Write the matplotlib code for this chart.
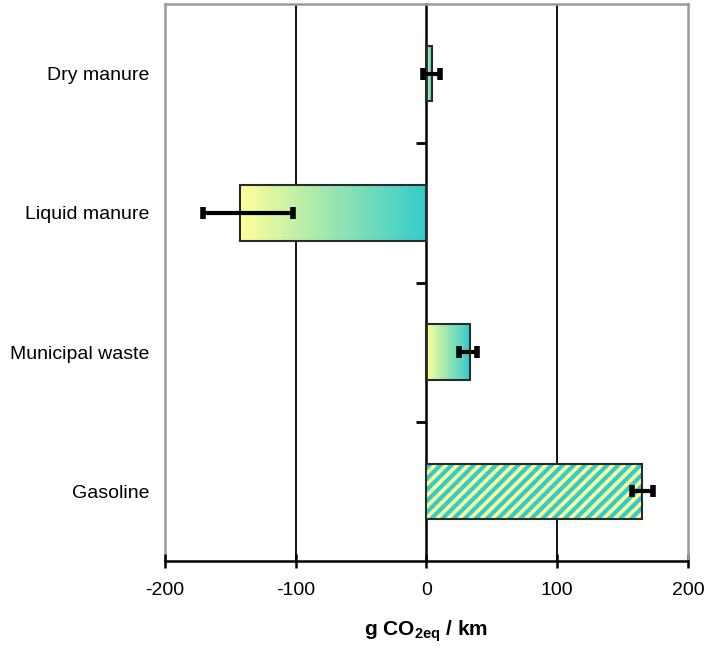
import matplotlib
matplotlib.use("Agg")
import matplotlib.pyplot as plt
import numpy as np
from matplotlib.colors import LinearSegmentedColormap

plt.rcParams.update({"font.family": ["Liberation Sans", "DejaVu Sans"],
                     "font.size": 14,
                     "axes.unicode_minus": False,
                     "mathtext.fontset": "custom",
                     "mathtext.rm": "Liberation Sans",
                     "mathtext.bf": "Liberation Sans:bold",
                     "hatch.linewidth": 2.6})

# data (top to bottom)
categories = ["Dry manure", "Liquid manure", "Municipal waste", "Gasoline"]
values = [4, -143, 33, 165]
err_low = [7, 28, 8, 8]
err_high = [6, 41, 6, 8]
xticks = [-200, -100, 0, 100, 200]

C_YELLOW = "#ffff99"
C_TEAL = "#33cccc"
C_FRAME = "#9a9a9a"
cmap = LinearSegmentedColormap.from_list("yt", [C_YELLOW, C_TEAL])

fig = plt.figure(figsize=(7.07, 6.51), dpi=100)
ax = fig.add_axes([0.2334, 0.1382, 0.7397, 0.8557])

ypos = np.arange(len(categories))
h = 0.4
grad = np.linspace(0, 1, 256).reshape(1, -1)

for i, (y, v) in enumerate(zip(ypos, values)):
    if categories[i] == "Gasoline":
        # teal fill with yellow diagonal stripes
        ax.barh(y, v, height=h, facecolor=C_TEAL, edgecolor=C_YELLOW, lw=0,
                hatch="///", zorder=2.8)
        ax.barh(y, v, height=h, facecolor="none", edgecolor="#2a2a2a", lw=1.5, zorder=3)
    else:
        bar = ax.barh(y, v, height=h, facecolor="none", edgecolor="#2a2a2a",
                      lw=1.5, zorder=3)[0]
        img = ax.imshow(grad, cmap=cmap, aspect="auto", zorder=2.5,
                        extent=(min(0, v), max(0, v), y + h / 2, y - h / 2))
        img.set_clip_path(bar)

ax.errorbar(values, ypos, xerr=[err_low, err_high], fmt="none", ecolor="black",
            elinewidth=3, capsize=4, capthick=4, zorder=4)

ax.set_xlim(xticks[0], xticks[-1])
ax.set_ylim(len(categories) - 0.5, -0.5)

for v in xticks[1:-1]:
    if v != 0:
        ax.axvline(v, color="black", lw=1.3, zorder=1)

# y axis sits on the zero line, ticks between categories
ax.spines["left"].set_position(("data", 0))
ax.spines["left"].set_color("black")
ax.spines["left"].set_linewidth(1.8)
ax.set_yticks(ypos[:-1] + 0.5)
ax.set_yticklabels([])
ax.tick_params(axis="y", length=7, width=2, direction="out")

for s in ["top", "right"]:
    ax.spines[s].set_color(C_FRAME)
    ax.spines[s].set_linewidth(1.8)
ax.spines["bottom"].set_linewidth(1.8)

ax.set_xticks(xticks)
ax.tick_params(axis="x", length=10, width=1.8, direction="inout", pad=10)

sec = ax.secondary_yaxis("left")
sec.set_yticks(ypos)
sec.set_yticklabels(categories)
sec.tick_params(length=0, pad=11)
sec.spines["left"].set_color(C_FRAME)
sec.spines["left"].set_linewidth(1.8)

ax.set_xlabel(r"g CO$_{\mathbf{2eq}}$ / km", fontweight="bold", fontsize=15, labelpad=14)

fig.savefig("out.png", dpi=100)
